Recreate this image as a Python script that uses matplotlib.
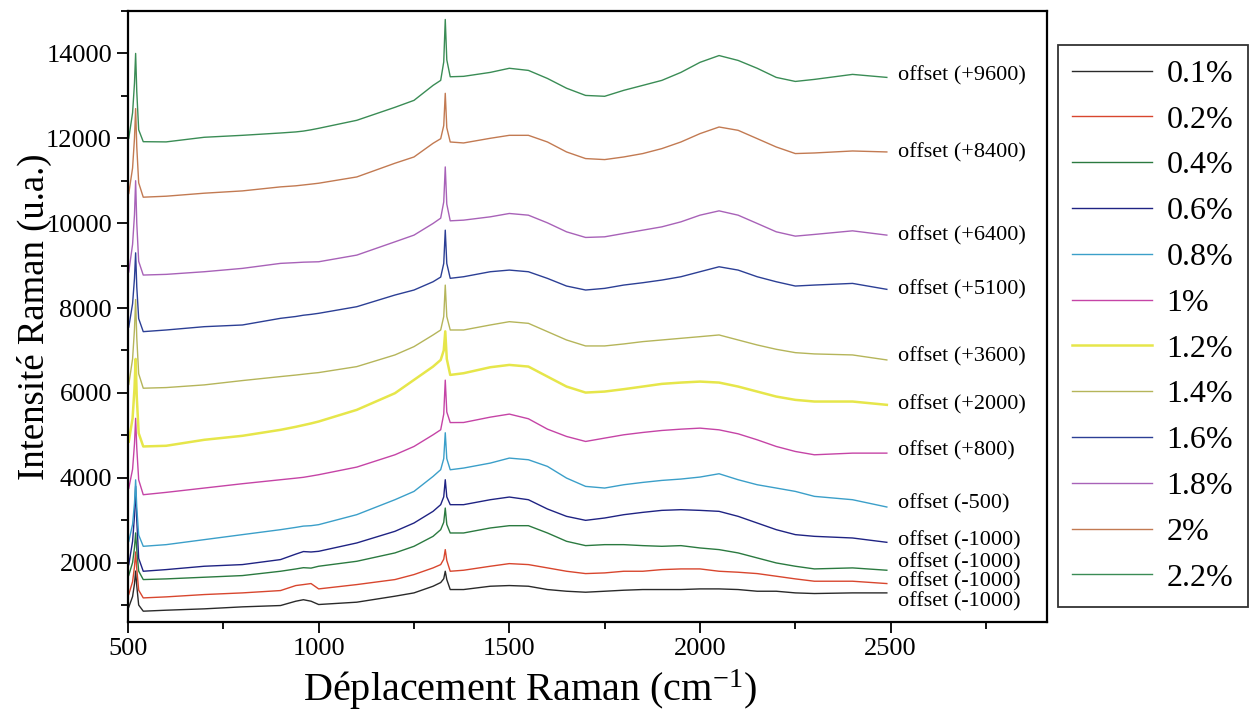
import matplotlib
matplotlib.use('Agg')
import matplotlib.pyplot as plt
from matplotlib.ticker import MultipleLocator

plt.rcParams['font.family'] = ['Liberation Serif', 'DejaVu Serif']
plt.rcParams['mathtext.default'] = 'regular'

# Raman shift grid (cm-1), shared by all spectra
shift = [502, 512, 517, 520, 523, 528, 540, 600, 700, 800, 900, 940, 960, 980, 1000,
         1100, 1200, 1250, 1300, 1320, 1328, 1332, 1336, 1345, 1380, 1450, 1500, 1550,
         1600, 1650, 1700, 1750, 1800, 1850, 1900, 1950, 2000, 2050, 2100, 2150, 2200,
         2250, 2300, 2400, 2490]

# spectra already shifted by their offsets
s_01 = [950, 1200, 1500, 1800, 1450, 1000, 855, 878, 910, 957, 988, 1090, 1125, 1090, 1012,
        1067, 1208, 1286, 1443, 1530, 1620, 1796, 1600, 1365, 1365, 1443, 1459, 1443,
        1365, 1325, 1302, 1325, 1349, 1365, 1365, 1365, 1380, 1380, 1365, 1325, 1325,
        1286, 1271, 1286, 1286]
s_02 = [1250, 1550, 1900, 2250, 1850, 1350, 1168, 1192, 1247, 1286, 1341, 1459, 1482, 1506, 1380,
        1482, 1600, 1718, 1875, 1953, 2080, 2306, 2050, 1796, 1820, 1914, 1976, 1953,
        1875, 1796, 1741, 1757, 1796, 1796, 1835, 1851, 1851, 1796, 1773, 1741, 1679,
        1616, 1561, 1561, 1506]
s_04 = [1700, 2000, 2350, 2700, 2300, 1800, 1600, 1616, 1655, 1694, 1796, 1850, 1880, 1870, 1914,
        2031, 2228, 2384, 2619, 2776, 2950, 3286, 2900, 2698, 2698, 2816, 2870, 2870,
        2698, 2502, 2400, 2423, 2423, 2400, 2384, 2400, 2345, 2306, 2228, 2110, 1992,
        1914, 1851, 1875, 1820]
s_06 = [1950, 2500, 3100, 3800, 3000, 2100, 1796, 1835, 1914, 1953, 2071, 2200, 2260, 2250, 2266,
        2463, 2737, 2933, 3208, 3365, 3550, 3953, 3550, 3365, 3365, 3482, 3545, 3482,
        3263, 3090, 2996, 3051, 3129, 3184, 3231, 3247, 3231, 3208, 3090, 2933, 2776,
        2659, 2619, 2580, 2478]
s_08 = [2500, 2900, 3400, 3950, 3300, 2650, 2384, 2423, 2541, 2659, 2776, 2830, 2860, 2870, 2894,
        3130, 3482, 3678, 4031, 4190, 4450, 5060, 4450, 4188, 4228, 4345, 4463, 4424,
        4267, 3992, 3796, 3757, 3835, 3890, 3937, 3969, 4016, 4094, 3953, 3835, 3757,
        3678, 3561, 3482, 3310]
s_1 = [3750, 4200, 4800, 5400, 4700, 3950, 3600, 3655, 3757, 3859, 3953, 3990, 4010, 4040, 4071,
       4251, 4541, 4737, 5012, 5130, 5500, 6300, 5550, 5300, 5302, 5428, 5500, 5390,
       5145, 4973, 4855, 4934, 5012, 5067, 5114, 5145, 5169, 5129, 5035, 4894, 4737,
       4619, 4541, 4580, 4580]
s_12 = [4850, 5400, 6100, 6800, 5900, 5050, 4737, 4753, 4894, 4988, 5129, 5200, 5240, 5280, 5325,
        5600, 5992, 6306, 6620, 6776, 7000, 7450, 6800, 6423, 6463, 6604, 6659, 6620,
        6384, 6149, 6007, 6031, 6087, 6149, 6212, 6243, 6266, 6243, 6149, 6031, 5913,
        5835, 5796, 5796, 5718]
s_14 = [6200, 6800, 7500, 8200, 7300, 6450, 6110, 6125, 6188, 6290, 6384, 6420, 6440, 6460, 6478,
        6619, 6894, 7090, 7365, 7482, 7800, 8540, 7800, 7482, 7482, 7600, 7678, 7639,
        7443, 7247, 7106, 7106, 7153, 7208, 7247, 7286, 7325, 7365, 7247, 7129, 7027,
        6948, 6918, 6894, 6776]
s_16 = [7550, 8100, 8700, 9300, 8500, 7750, 7443, 7482, 7560, 7600, 7757, 7800, 7830, 7850, 7875,
        8031, 8306, 8424, 8619, 8729, 9050, 9835, 9050, 8700, 8737, 8855, 8894, 8855,
        8698, 8518, 8424, 8463, 8541, 8596, 8659, 8737, 8855, 8972, 8894, 8737, 8619,
        8518, 8541, 8580, 8440]
s_18 = [8850, 9500, 10200, 11000, 10000, 9100, 8777, 8793, 8855, 8934, 9052, 9070, 9080, 9085, 9090,
        9247, 9560, 9718, 9993, 10118, 10500, 11325, 10450, 10055, 10071, 10149, 10228, 10188,
        10007, 9796, 9663, 9678, 9757, 9835, 9913, 10031, 10188, 10290, 10188, 9993, 9796,
        9694, 9734, 9819, 9718]
s_2 = [10700, 11300, 12000, 12700, 11800, 10950, 10612, 10635, 10706, 10760, 10855, 10880, 10900, 10920, 10941,
       11089, 11412, 11560, 11882, 11990, 12300, 13060, 12250, 11913, 11890, 12000, 12070, 12070,
       11913, 11678, 11522, 11498, 11560, 11640, 11757, 11913, 12110, 12266, 12188, 11992, 11795,
       11640, 11654, 11701, 11678]
s_22 = [12000, 12600, 13300, 14000, 13100, 12200, 11920, 11915, 12024, 12070, 12125, 12150, 12170, 12200, 12235,
        12424, 12730, 12894, 13247, 13365, 13800, 14800, 13850, 13450, 13460, 13553, 13650, 13600,
        13410, 13180, 13010, 12990, 13130, 13247, 13365, 13553, 13790, 13950, 13835, 13650, 13435,
        13340, 13388, 13506, 13435]

series = [s_01, s_02, s_04, s_06, s_08, s_1, s_12, s_14, s_16, s_18, s_2, s_22]
labels = ['0.1%', '0.2%', '0.4%', '0.6%', '0.8%', '1%', '1.2%', '1.4%', '1.6%', '1.8%', '2%', '2.2%']
offsets = ['offset (-1000)', 'offset (-1000)', 'offset (-1000)', 'offset (-1000)', 'offset (-500)',
           'offset (+800)', 'offset (+2000)', 'offset (+3600)', 'offset (+5100)', 'offset (+6400)',
           'offset (+8400)', 'offset (+9600)']

colors = ['#2a2a2a', '#d8462e', '#2b7a40', '#1f2383', '#3b9fc9', '#c544a6',
          '#e6e64a', '#b5b55a', '#2c3f95', '#a862b8', '#c27a52', '#3a8c55']
widths = [1.0, 1.0, 1.0, 1.0, 1.0, 1.0, 1.8, 1.0, 1.0, 1.0, 1.0, 1.0]
# vertical position of each offset note (data units)
note_y = [1082, 1553, 2000, 2517, 3388, 4635, 5718, 6847, 8424, 9694, 11670, 13482]

fig = plt.figure(figsize=(12.53, 7.16), dpi=100)
ax = fig.add_axes([128 / 1253, 1 - 622 / 716, (1047 - 128) / 1253, (622 - 11) / 716])

handles = []
for ys, lab, c, lw in zip(series, labels, colors, widths):
    h, = ax.plot(shift, ys, color=c, lw=lw, label=lab)
    handles.append(h)

for txt, yy in zip(offsets, note_y):
    ax.text(2520, yy, txt, fontsize=16, ha='left', va='center')

ax.set_xlim(500, 2910)
ax.set_ylim(600, 15000)
ax.xaxis.set_major_locator(MultipleLocator(500))
ax.xaxis.set_minor_locator(MultipleLocator(250))
ax.yaxis.set_major_locator(MultipleLocator(2000))
ax.yaxis.set_minor_locator(MultipleLocator(1000))
ax.set_xticks([500, 1000, 1500, 2000, 2500])
ax.tick_params(which='major', length=8, width=1.3, labelsize=19, direction='out')
ax.tick_params(which='minor', length=5, width=1.3, direction='out')
for sp in ax.spines.values():
    sp.set_linewidth(1.6)

ax.set_xlabel('Déplacement Raman (cm$^{-1}$)', fontsize=29)
ax.set_ylabel('Intensité Raman (u.a.)', fontsize=26.5)
ax.xaxis.set_label_coords(0.437, -0.075)
ax.yaxis.set_label_coords(-0.083, 0.5)

leg = fig.legend(handles=handles, loc='upper left', bbox_to_anchor=(1058 / 1253, 1 - 45 / 716),
                 borderaxespad=0, fontsize=23, frameon=True, fancybox=False, edgecolor='black',
                 handlelength=2.5, handletextpad=0.45, labelspacing=0.515, borderpad=0.45)
leg.get_frame().set_linewidth(1.3)

fig.savefig('out.png', dpi=100)
